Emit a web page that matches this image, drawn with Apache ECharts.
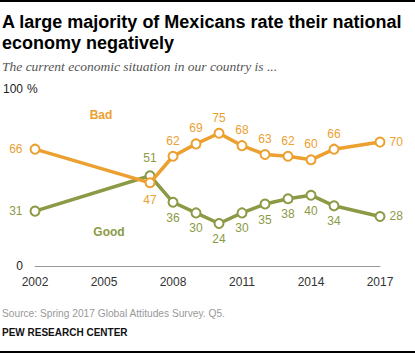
<!DOCTYPE html>
<html>
<head>
<meta charset="utf-8">
<script src="https://cdn.jsdelivr.net/npm/echarts@6/dist/echarts.min.js"></script>
<style>
html,body{margin:0;padding:0;background:#fff;}
#chart{width:415px;height:353px;}
</style>
</head>
<body>
<div id="chart"></div>
<script>
var years = [2002, 2007, 2008, 2009, 2010, 2011, 2012, 2013, 2014, 2015, 2017];
var bad   = [66, 47, 62, 69, 75, 68, 63, 62, 60, 66, 70];
var good  = [31, 51, 36, 30, 24, 30, 35, 38, 40, 34, 28];
var xTicks = [2002, 2005, 2008, 2011, 2014, 2017];
var yTicks = [0, 100];

var ORANGE = '#ECA030';
var GREEN = '#8C9A46';

function build(vals, normalPos) {
  return vals.map(function (v, i) {
    var pos = normalPos;
    var dist = 4;
    if (i === 0) { pos = 'left'; dist = 7; }
    else if (i === vals.length - 1) { pos = 'right'; dist = 4; }
    else if (years[i] === 2007) { pos = normalPos === 'top' ? 'bottom' : 'top'; dist = 6; }
    return {
      value: [years[i], v],
      label: { position: pos, distance: dist }
    };
  });
}

var chart = echarts.init(document.getElementById('chart'), null, { renderer: 'svg' });

var labelFont = 'Arial, "Liberation Sans", sans-serif';

chart.setOption({
  animation: false,
  grid: { left: 35, right: 35, top: 89, bottom: 87, containLabel: false },
  xAxis: {
    type: 'value',
    min: xTicks[0],
    max: xTicks[xTicks.length - 1],
    interval: 3,
    axisLine: { show: true, lineStyle: { color: '#999', width: 1 } },
    axisTick: { show: false },
    splitLine: { show: false },
    axisLabel: { color: '#333', fontSize: 12, fontFamily: labelFont, margin: 10,
      formatter: function (v) { return String(v); } }
  },
  yAxis: {
    type: 'value',
    min: yTicks[0],
    max: yTicks[1],
    interval: 100,
    axisLine: { show: false },
    axisTick: { show: false },
    splitLine: { show: false },
    axisLabel: { color: '#222', fontSize: 12, fontFamily: labelFont, margin: 12 }
  },
  series: [
    {
      name: 'Good',
      type: 'line',
      data: build(good, 'bottom'),
      z: 2,
      lineStyle: { color: GREEN, width: 3.5 },
      itemStyle: { color: '#fff', borderColor: GREEN, borderWidth: 2 },
      symbol: 'circle',
      symbolSize: 9,
      label: { show: true, color: GREEN, fontSize: 12, fontFamily: labelFont,
        formatter: function (p) { return p.value[1]; } }
    },
    {
      name: 'Bad',
      type: 'line',
      data: build(bad, 'top'),
      z: 3,
      lineStyle: { color: ORANGE, width: 3.5 },
      itemStyle: { color: '#fff', borderColor: ORANGE, borderWidth: 2 },
      symbol: 'circle',
      symbolSize: 9,
      label: { show: true, color: ORANGE, fontSize: 12, fontFamily: labelFont,
        formatter: function (p) { return p.value[1]; } }
    }
  ],
  graphic: [
    { type: 'rect', shape: { x: 0, y: 0, width: 415, height: 2 }, style: { fill: '#000' } },
    { type: 'rect', shape: { x: 0, y: 351, width: 415, height: 2 }, style: { fill: '#000' } },
    { type: 'text', style: { x: 2, y: 22, text: 'A large majority of Mexicans rate their national',
      font: 'bold 18px "Liberation Sans Narrow", Arial, sans-serif', fill: '#000', verticalAlign: 'middle' } },
    { type: 'text', style: { x: 2, y: 43, text: 'economy negatively',
      font: 'bold 18px "Liberation Sans Narrow", Arial, sans-serif', fill: '#000', verticalAlign: 'middle' } },
    { type: 'text', style: { x: 2, y: 66, text: 'The current economic situation in our country is ...',
      font: 'italic 13.5px "Liberation Serif", serif', fill: '#555', verticalAlign: 'middle' } },
    { type: 'text', style: { x: 27, y: 89, text: '%',
      font: '12px Arial, "Liberation Sans", sans-serif', fill: '#222', verticalAlign: 'middle' } },
    { type: 'text', style: { x: 101, y: 115, text: 'Bad',
      font: 'bold 12px Arial, "Liberation Sans", sans-serif', fill: ORANGE, verticalAlign: 'middle', align: 'center' } },
    { type: 'text', style: { x: 109, y: 232, text: 'Good',
      font: 'bold 12px Arial, "Liberation Sans", sans-serif', fill: GREEN, verticalAlign: 'middle', align: 'center' } },
    { type: 'text', style: { x: 2, y: 313, text: 'Source: Spring 2017 Global Attitudes Survey. Q5.',
      font: '10.2px Arial, "Liberation Sans", sans-serif', fill: '#999', verticalAlign: 'middle' } },
    { type: 'text', style: { x: 2, y: 332, text: 'PEW RESEARCH CENTER',
      font: 'bold 10px Arial, "Liberation Sans", sans-serif', fill: '#111', verticalAlign: 'middle' } }
  ]
});
</script>
</body>
</html>
